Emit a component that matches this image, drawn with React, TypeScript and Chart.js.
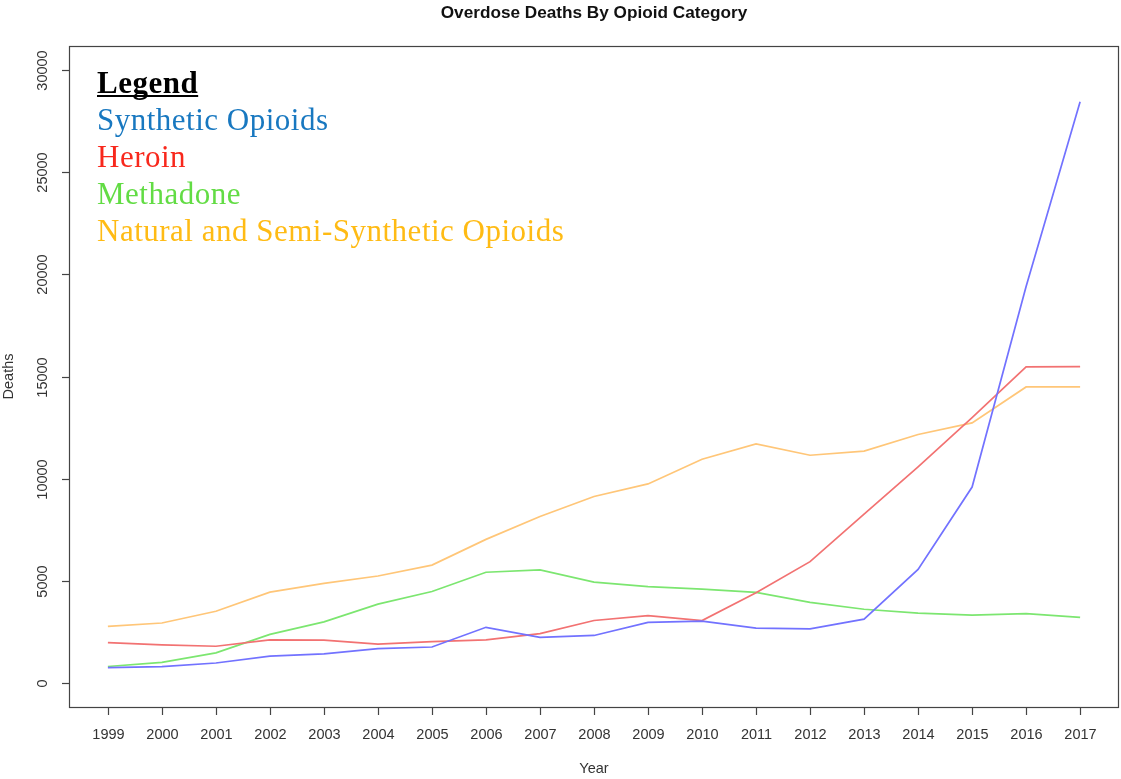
import React, { useEffect, useRef } from "react";
import { Chart, registerables } from "chart.js";

Chart.register(...registerables);

const years = [1999, 2000, 2001, 2002, 2003, 2004, 2005, 2006, 2007, 2008, 2009, 2010, 2011, 2012, 2013, 2014, 2015, 2016, 2017];
const synthetic = [730, 782, 957, 1295, 1400, 1664, 1742, 2707, 2213, 2306, 2946, 3007, 2666, 2628, 3105, 5544, 9580, 19413, 28466];
const heroin = [1960, 1842, 1779, 2089, 2080, 1878, 2009, 2088, 2399, 3041, 3278, 3036, 4397, 5925, 8257, 10574, 12989, 15469, 15482];
const methadone = [784, 986, 1456, 2358, 2972, 3845, 4460, 5406, 5518, 4924, 4696, 4577, 4418, 3932, 3591, 3400, 3301, 3373, 3194];
const natural = [2749, 2917, 3491, 4431, 4863, 5221, 5755, 7017, 8140, 9119, 9735, 10943, 11693, 11140, 11346, 12159, 12727, 14487, 14495];

const yearTicks = years;
const deathTicks = [0, 5000, 10000, 15000, 20000, 25000, 30000];

const titleText = "Overdose Deaths By Opioid Category";
const xTitle = "Year";
const yTitle = "Deaths";
const legendTitle = "Legend";
const legendItems = [
  { label: "Synthetic Opioids", color: "#1878c0" },
  { label: "Heroin", color: "#f8281c" },
  { label: "Methadone", color: "#62dc44" },
  { label: "Natural and Semi-Synthetic Opioids", color: "#ffbb14" },
];

const W = 1121;
const H = 779;

export default function App() {
  const ref = useRef<HTMLCanvasElement | null>(null);
  useEffect(() => {
    const canvas = ref.current!;
    const pts = (arr: number[]) => years.map((y, i) => ({ x: y, y: arr[i] }));
    const decor = {
      id: "decor",
      afterDraw(chart: any) {
        const ctx = chart.ctx as CanvasRenderingContext2D;
        const a = chart.chartArea;
        const xs = chart.scales.x;
        const ys = chart.scales.y;
        ctx.save();
        // box
        ctx.strokeStyle = "#444";
        ctx.lineWidth = 1.2;
        ctx.strokeRect(a.left + 0.5, a.top + 0.5, a.right - a.left - 1, a.bottom - a.top);
        // x ticks
        ctx.fillStyle = "#333";
        ctx.font = "14.5px 'Liberation Sans', Arial, sans-serif";
        ctx.textAlign = "center";
        ctx.textBaseline = "middle";
        for (const t of yearTicks) {
          const px = Math.round(xs.getPixelForValue(t)) + 0.5;
          ctx.beginPath();
          ctx.moveTo(px, a.bottom);
          ctx.lineTo(px, a.bottom + 8);
          ctx.stroke();
          ctx.fillText(String(t), px, a.bottom + 28);
        }
        // y ticks
        for (const t of deathTicks) {
          const py = Math.round(ys.getPixelForValue(t)) + 0.5;
          ctx.beginPath();
          ctx.moveTo(a.left - 7, py);
          ctx.lineTo(a.left, py);
          ctx.stroke();
          ctx.save();
          ctx.translate(43, py);
          ctx.rotate(-Math.PI / 2);
          ctx.fillText(String(t), 0, 0);
          ctx.restore();
        }
        // axis titles
        const cx = (a.left + a.right) / 2;
        const cy = (a.top + a.bottom) / 2;
        ctx.fillText(xTitle, cx, 769);
        ctx.save();
        ctx.translate(9, cy);
        ctx.rotate(-Math.PI / 2);
        ctx.fillText(yTitle, 0, 0);
        ctx.restore();
        // title
        ctx.fillStyle = "#111";
        ctx.font = "bold 17.2px 'Liberation Sans', Arial, sans-serif";
        ctx.fillText(titleText, cx, 13);
        // legend
        ctx.textAlign = "left";
        ctx.textBaseline = "alphabetic";
        ctx.fillStyle = "#000";
        (ctx as any).letterSpacing = "0.5px";
        ctx.font = "bold 31px 'Liberation Serif', 'DejaVu Serif', serif";
        const lx = 97;
        ctx.fillText(legendTitle, lx, 93);
        const lw = ctx.measureText(legendTitle).width;
        ctx.fillRect(lx, 95, lw, 2);
        ctx.font = "31px 'Liberation Serif', 'DejaVu Serif', serif";
        legendItems.forEach((it, i) => {
          ctx.fillStyle = it.color;
          ctx.fillText(it.label, lx, 130 + i * 37);
        });
        (ctx as any).letterSpacing = "0px";
        ctx.restore();
      },
    };
    const ds = (label: string, data: number[], color: string) => ({
      label,
      data: pts(data),
      borderColor: color,
      backgroundColor: color,
      borderWidth: 1.7,
      pointRadius: 0,
      tension: 0,
      fill: false,
    });
    const chart = new Chart(canvas, {
      type: "line",
      data: {
        datasets: [
          ds("Synthetic Opioids", synthetic, "#7272ff"),
          ds("Heroin", heroin, "#f27272"),
          ds("Methadone", methadone, "#7ce670"),
          ds("Natural and Semi-Synthetic Opioids", natural, "#ffc678"),
        ],
      },
      options: {
        responsive: false,
        animation: false,
        layout: { padding: { left: 69, right: 2, top: 46, bottom: 72 } },
        plugins: { legend: { display: false }, title: { display: false }, tooltip: { enabled: false } },
        scales: {
          x: { type: "linear", min: 1998.28, max: 2017.72, display: false },
          y: { type: "linear", min: -1200, max: 31200, display: false },
        },
      },
      plugins: [decor],
    });
    return () => chart.destroy();
  }, []);
  return (
    <div style={{ position: "fixed", left: 0, top: 0, width: W, height: H, background: "#fff" }}>
      <canvas ref={ref} width={W} height={H} style={{ width: W, height: H, display: "block" }} />
    </div>
  );
}
